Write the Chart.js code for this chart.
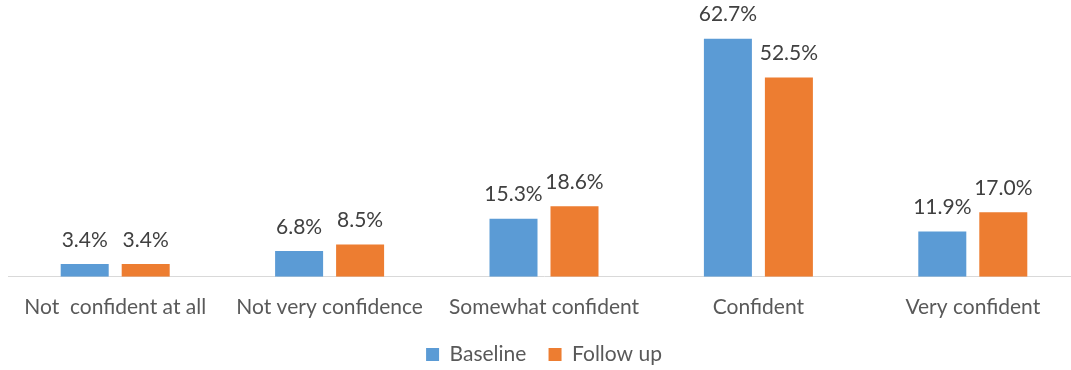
<!DOCTYPE html>
<html>
<head>
<meta charset="utf-8">
<script src="https://cdn.jsdelivr.net/npm/chart.js@4/dist/chart.umd.min.js"></script>
<style>
  html, body { margin: 0; padding: 0; background: #fff; overflow: hidden; }
  .wrap { position: relative; width: 1095px; height: 375px; }
</style>
</head>
<body>
<div class="wrap"><canvas id="confChart"></canvas></div>
<script>
const categories = [
  "Not  confident at all",
  "Not very confidence",
  "Somewhat confident",
  "Confident",
  "Very confident",
];
const baseline = [3.4, 6.8, 15.3, 62.7, 11.9];
const followUp = [3.4, 8.5, 18.6, 52.5, 17.0];

Chart.defaults.font.family = "Lato, 'Open Sans', sans-serif";

// value labels above each bar
const barLabels = {
  id: "barLabels",
  afterDatasetsDraw(chart) {
    const ctx = chart.ctx;
    ctx.save();
    ctx.font = "21px Lato, 'Open Sans', sans-serif";
    ctx.fillStyle = "#404040";
    ctx.textAlign = "center";
    ctx.textBaseline = "middle";
    chart.data.datasets.forEach((ds, i) => {
      chart.getDatasetMeta(i).data.forEach((bar, j) => {
        ctx.fillText(ds.data[j].toFixed(1) + "%", bar.x, bar.y - 24);
      });
    });
    ctx.restore();
  },
};

let confChart = document.getElementById("confChart");
new Chart(confChart, {
  type: "bar",
  data: {
    labels: categories,
    datasets: [
      {
        label: "Baseline",
        data: baseline,
        backgroundColor: "#5B9BD5",
        categoryPercentage: 0.569,
        barPercentage: 0.787,
      },
      {
        label: "Follow up",
        data: followUp,
        backgroundColor: "#ED7D31",
        categoryPercentage: 0.569,
        barPercentage: 0.787,
      },
    ],
  },
  options: {
    responsive: true,
    maintainAspectRatio: false,
    animation: false,
    layout: { padding: { left: 8, right: 15, top: 11, bottom: 0 } },
    plugins: {
      tooltip: { enabled: false },
      legend: {
        position: "bottom",
        labels: {
          color: "#595959",
          font: { size: 21 },
          boxWidth: 13,
          boxHeight: 13,
          padding: 6,
          // a little extra room between the two legend entries
          generateLabels(chart) {
            const items = Chart.defaults.plugins.legend.labels.generateLabels(chart);
            items.forEach((it, i) => {
              if (i < items.length - 1) it.text += "   ";
            });
            return items;
          },
        },
      },
    },
    scales: {
      x: {
        grid: { display: false, drawTicks: false },
        border: { color: "#d9d9d9", width: 1 },
        ticks: {
          color: "#595959",
          font: { size: 21 },
          padding: 18,
          maxRotation: 0,
          autoSkip: false,
        },
      },
      y: {
        display: false,
        min: 0,
        max: 70,
      },
    },
  },
  plugins: [barLabels],
});
</script>
</body>
</html>
